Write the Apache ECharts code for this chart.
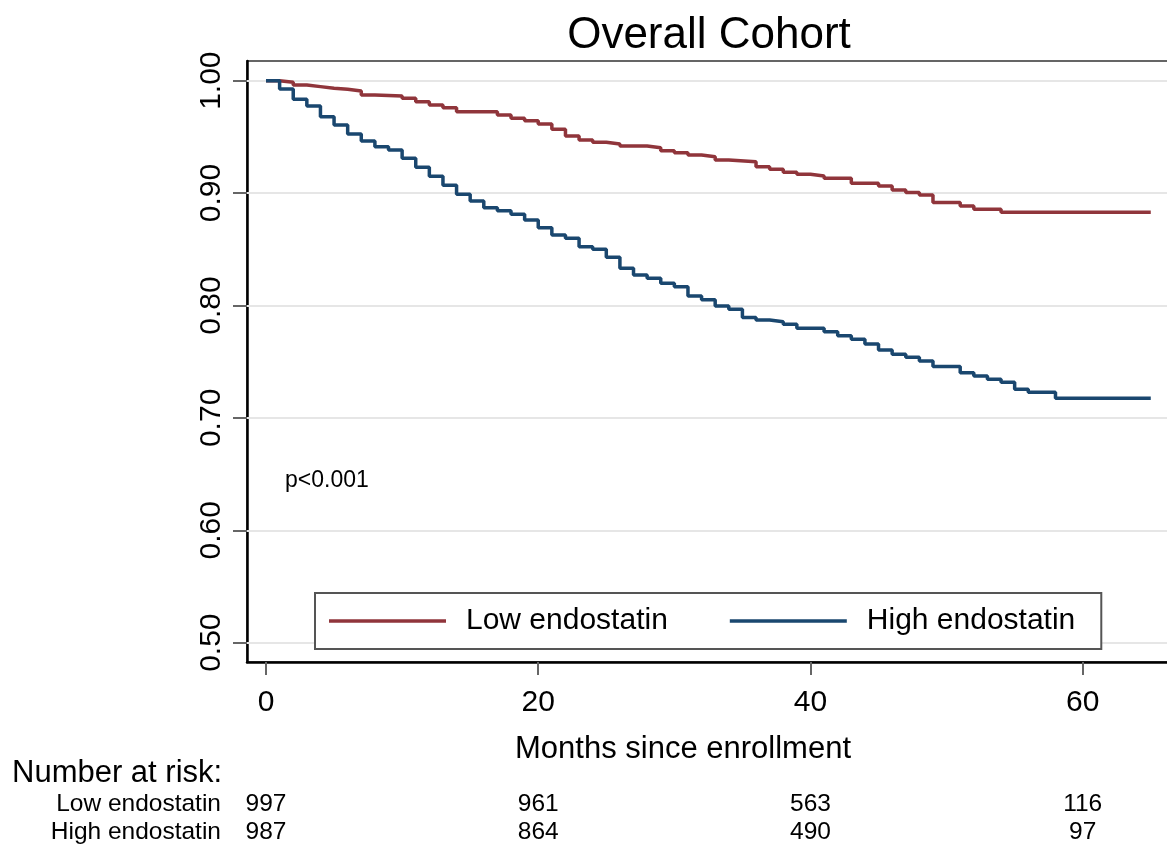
<!DOCTYPE html>
<html>
<head>
<meta charset="utf-8">
<script src="https://cdn.jsdelivr.net/npm/echarts@6/dist/echarts.min.js"></script>
<style>
  html, body { margin: 0; padding: 0; background: #fff; overflow: hidden; }
  /* the plot frame runs slightly past the right edge of the page */
  #chart { width: 1176px; height: 850px; }
</style>
</head>
<body>
<div id="chart"></div>
<script>
// Kaplan-Meier step data: time of each step (months) and survival from that time on
const lowTimes = [0,1,2,3,4,5,6,7,8,10,11,12,13,14,17,18,19,20,21,22,23,24,25,26,28,29,30,31,32,33,34,36,37,38,39,40,41,43,45,46,47,48,49,51,52,54,65];
const lowSurv  = [1.000,0.9986,0.9962,0.9947,0.9932,0.9923,0.9908,0.9873,0.9864,0.9843,0.9813,0.9784,0.976,0.9724,0.9695,0.9665,0.9644,0.9615,0.9567,0.9508,0.9472,0.9452,0.9437,0.9419,0.9404,0.9377,0.9359,0.9339,0.9324,0.9294,0.9279,0.9235,0.9212,0.9185,0.9167,0.9152,0.9132,0.9087,0.9063,0.9028,0.9004,0.8983,0.8915,0.8885,0.8856,0.8829,0.8829];

const highTimes = [0,1,2,3,4,5,6,7,8,9,10,11,12,13,14,15,16,17,18,19,20,21,22,23,24,25,26,27,28,29,30,31,32,33,34,35,36,37,38,39,41,42,43,44,45,46,47,48,49,51,52,53,54,55,56,58,65];
const highSurv  = [1.000,0.9926,0.9835,0.9775,0.968,0.9606,0.9526,0.9464,0.9413,0.9383,0.931,0.923,0.915,0.907,0.899,0.893,0.887,0.8843,0.8811,0.876,0.8692,0.8627,0.8598,0.8523,0.85,0.8429,0.8331,0.8271,0.8242,0.8197,0.8167,0.8085,0.805,0.7996,0.7966,0.7892,0.7871,0.7856,0.7833,0.7797,0.7767,0.7731,0.770,0.7658,0.7604,0.7566,0.7539,0.7506,0.7456,0.7402,0.7373,0.7343,0.7317,0.7255,0.7228,0.7174,0.7174];

const seriesNames = ['Low endostatin', 'High endostatin'];
const xTicks = [0, 20, 40, 60];
const yTicks = [0.5, 0.6, 0.7, 0.8, 0.9, 1.0];

// Number at risk at each x tick
const riskTimes = [0, 20, 40, 60];
const riskLow  = [997, 961, 563, 116];
const riskHigh = [987, 864, 490, 97];

const FONT = "'Liberation Sans', Arial, sans-serif";
const RED = '#90353b';
const BLUE = '#1a476f';

const zip = (a, b) => a.map((t, i) => [t, b[i]]);

const chart = echarts.init(document.getElementById('chart'), null, { renderer: 'canvas' });

const option = {
  backgroundColor: '#ffffff',
  animation: false,
  textStyle: { fontFamily: FONT },
  title: {
    text: 'Overall Cohort',
    left: 704,
    top: 9,
    textAlign: 'center',
    textStyle: { fontFamily: FONT, fontSize: 44, fontWeight: 'normal', color: '#000' }
  },
  grid: {
    left: 247, top: 61, width: 925, bottom: 188,
    show: true, borderColor: '#333', borderWidth: 1.5, backgroundColor: '#fff'
  },
  legend: {
    data: seriesNames,
    left: 315, top: 593,
    orient: 'horizontal',
    icon: 'rect',
    itemWidth: 117, itemHeight: 3.5,
    itemGap: 62,
    padding: [13, 26, 13, 14],
    borderColor: '#555', borderWidth: 2,
    backgroundColor: '#fff',
    textStyle: { fontFamily: FONT, fontSize: 30, color: '#000', padding: [3, 0, 0, 15] }
  },
  xAxis: {
    type: 'value',
    min: -1.396, max: 66.56,
    axisLine: { show: true, onZero: false, lineStyle: { color: '#000', width: 2.5 } },
    axisTick: { show: true, customValues: xTicks, length: 13, lineStyle: { color: '#666', width: 2 } },
    axisLabel: { customValues: xTicks, fontFamily: FONT, fontSize: 30, color: '#000', margin: 26 },
    splitLine: { show: false }
  },
  yAxis: {
    type: 'value',
    min: 0.4828, max: 1.0175,
    axisLine: { show: true, onZero: false, lineStyle: { color: '#000', width: 2.5 } },
    axisTick: { show: true, customValues: yTicks, length: 14, lineStyle: { color: '#666', width: 2 } },
    axisLabel: {
      customValues: yTicks, rotate: 90, fontFamily: FONT, fontSize: 30, color: '#000', margin: 20,
      formatter: v => v.toFixed(2)
    },
    splitLine: { show: false }
  },
  series: [
    {
      name: 'grid',
      type: 'line',
      data: [],
      z: 1,
      silent: true,
      markLine: {
        silent: true,
        z: 1,
        symbol: 'none',
        label: { show: false },
        lineStyle: { color: '#e6e6e6', width: 2, type: 'solid' },
        data: yTicks.map(v => ({ yAxis: v }))
      }
    },
    {
      name: seriesNames[0],
      type: 'line',
      step: 'end',
      symbol: 'none',
      z: 3,
      data: zip(lowTimes, lowSurv),
      lineStyle: { color: RED, width: 3.5 },
      itemStyle: { color: RED }
    },
    {
      name: seriesNames[1],
      type: 'line',
      step: 'end',
      symbol: 'none',
      z: 3,
      data: zip(highTimes, highSurv),
      lineStyle: { color: BLUE, width: 3.5 },
      itemStyle: { color: BLUE }
    }
  ]
};

chart.setOption(option);

// Annotations and the number-at-risk table, placed from the axis scale
const graphics = [
  {
    type: 'text', x: 285, y: 481,
    style: { text: 'p<0.001', font: `23px ${FONT}`, fill: '#000', textVerticalAlign: 'middle' },
    z: 10
  },
  {
    type: 'text', x: 683, y: 749,
    style: { text: 'Months since enrollment', font: `31px ${FONT}`, fill: '#000', textAlign: 'center', textVerticalAlign: 'middle' }
  },
  {
    type: 'text', x: 12, y: 773,
    style: { text: 'Number at risk:', font: `31px ${FONT}`, fill: '#000', textAlign: 'left', textVerticalAlign: 'middle' }
  },
  {
    type: 'text', x: 221, y: 804,
    style: { text: seriesNames[0], font: `24.5px ${FONT}`, fill: '#000', textAlign: 'right', textVerticalAlign: 'middle' }
  },
  {
    type: 'text', x: 221, y: 832,
    style: { text: seriesNames[1], font: `24.5px ${FONT}`, fill: '#000', textAlign: 'right', textVerticalAlign: 'middle' }
  }
];

riskTimes.forEach((t, i) => {
  const px = chart.convertToPixel({ xAxisIndex: 0 }, t);
  graphics.push({
    type: 'text', x: px, y: 804,
    style: { text: String(riskLow[i]), font: `24.5px ${FONT}`, fill: '#000', textAlign: 'center', textVerticalAlign: 'middle' }
  });
  graphics.push({
    type: 'text', x: px, y: 832,
    style: { text: String(riskHigh[i]), font: `24.5px ${FONT}`, fill: '#000', textAlign: 'center', textVerticalAlign: 'middle' }
  });
});

chart.setOption({ graphic: graphics });
</script>
</body>
</html>
